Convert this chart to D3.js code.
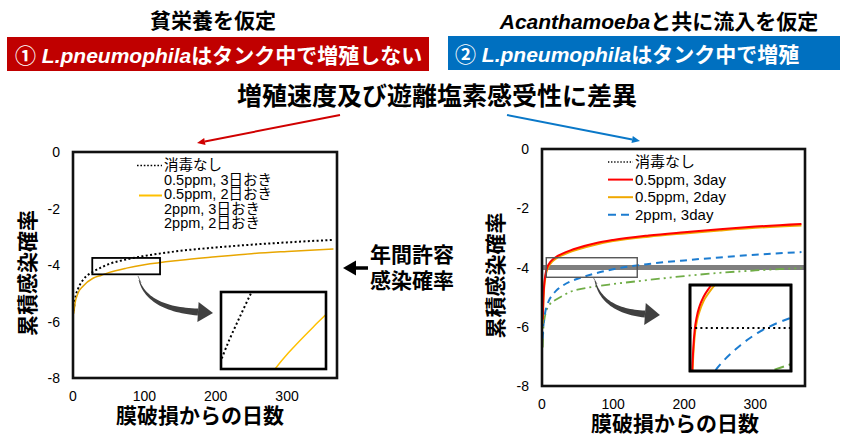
<!DOCTYPE html>
<html>
<head>
<meta charset="utf-8">
<script src="https://cdn.jsdelivr.net/npm/d3@7/dist/d3.min.js"></script>
<style>
  html, body { margin: 0; padding: 0; background: #fff; }
  svg { display: block; }
</style>
</head>
<body>
<svg id="chart" width="854" height="437"></svg>
<script>
// ---- data: log10 cumulative infection risk vs. days since membrane breach ----
const yTicks = [0, -2, -4, -6, -8];
const xTicks = [0, 100, 200, 300];
const threshold = -4; // annual acceptable infection risk (log10)

// Panel 1: oligotrophic, no growth in the tank
const leftDays = [1, 3, 7, 14, 28, 40, 50, 75, 100, 150, 200, 250, 300, 365];
const leftNone = [-5.62, -5.2, -4.85, -4.53, -4.24, -4.08, -3.97, -3.8, -3.68, -3.5, -3.38, -3.28, -3.2, -3.11];
const leftHalf2 = [-5.72, -5.33, -5.0, -4.75, -4.47, -4.36, -4.27, -4.11, -3.99, -3.83, -3.71, -3.6, -3.52, -3.43];
const leftLegend = ["消毒なし", "0.5ppm, 3日おき", "0.5ppm, 2日おき", "2ppm, 3日おき", "2ppm, 2日おき"];

// Panel 2: inflow with Acanthamoeba, growth in the tank
const rightDays = [1, 2, 3, 5, 7, 10, 14, 20, 28, 40, 50, 75, 100, 150, 200, 250, 300, 365];
const rightHalf3 = [-5.75, -5.0, -4.6, -4.22, -4.02, -3.87, -3.75, -3.64, -3.54, -3.42, -3.34, -3.18, -3.07, -2.92, -2.81, -2.71, -2.62, -2.53];
const rightHalf2 = [-5.9, -5.12, -4.7, -4.3, -4.09, -3.93, -3.81, -3.69, -3.59, -3.47, -3.39, -3.23, -3.11, -2.96, -2.85, -2.75, -2.66, -2.58];
const rightTwo3 = [-6.4, -5.95, -5.75, -5.45, -5.3, -5.1, -4.95, -4.78, -4.63, -4.47, -4.38, -4.2, -4.06, -3.88, -3.76, -3.66, -3.57, -3.48];
const rightTwo2 = [-6.7, -6.05, -5.82, -5.55, -5.4, -5.27, -5.17, -5.08, -4.97, -4.82, -4.75, -4.64, -4.56, -4.42, -4.29, -4.18, -4.1, -4.02];
const rightLegend = ["消毒なし", "0.5ppm, 3day", "0.5ppm, 2day", "2ppm, 3day"];

const FONT = "'Liberation Sans', Arial, 'Noto Sans CJK JP', sans-serif";
const svg = d3.select("#chart");

// ---- headings ----
function boldText(x, y, size, parts, anchor, fill) {
  const t = svg.append("text").attr("x", x).attr("y", y)
    .attr("font-family", FONT).attr("font-size", size).attr("font-weight", "bold")
    .attr("text-anchor", anchor || "start").attr("fill", fill || "#000");
  parts.forEach(p => {
    t.append("tspan").text(p[0]).attr("font-style", p[1] ? "italic" : "normal");
  });
  return t;
}

boldText(213, 28, 21, [["貧栄養を仮定"]], "middle");
boldText(659, 29, 21, [["Acanthamoeba", true], ["と共に流入を仮定"]], "middle");

svg.append("rect").attr("x", 7).attr("y", 37).attr("width", 422).attr("height", 34).attr("fill", "#C00000");
boldText(15, 63, 21, [["① "], ["L.pneumophila", true], ["はタンク中で増殖しない"]], "start", "#fff");

svg.append("rect").attr("x", 448).attr("y", 36).attr("width", 392).attr("height", 34).attr("fill", "#0070C0");
boldText(455, 62, 21, [["② "], ["L.pneumophila", true], ["はタンク中で増殖"]], "start", "#fff");

boldText(437, 105, 25, [["増殖速度及び遊離塩素感受性に差異"]], "middle");

// pointer arrows from the subtitle to each panel
function straightArrow(x1, y1, x2, y2, color) {
  const ang = Math.atan2(y2 - y1, x2 - x1);
  const L = 8, W = 3.5;
  const bx = x2 - L * Math.cos(ang), by = y2 - L * Math.sin(ang);
  svg.append("line").attr("x1", x1).attr("y1", y1).attr("x2", bx).attr("y2", by)
    .attr("stroke", color).attr("stroke-width", 2);
  const px = -Math.sin(ang) * W, py = Math.cos(ang) * W;
  svg.append("path")
    .attr("d", `M${x2},${y2}L${bx + px},${by + py}L${bx - px},${by - py}Z`)
    .attr("fill", color);
}
straightArrow(340, 115, 197, 143, "#D00000");
straightArrow(507, 115, 640, 141, "#0A78C8");

// ---- panel helpers ----
function tapered(p0, c, p1, w0, w1, headLen, headW, color) {
  const n = 30, L = [], R = [];
  for (let i = 0; i <= n; i++) {
    const t = i / n;
    const x = (1 - t) * (1 - t) * p0[0] + 2 * (1 - t) * t * c[0] + t * t * p1[0];
    const y = (1 - t) * (1 - t) * p0[1] + 2 * (1 - t) * t * c[1] + t * t * p1[1];
    const dx = 2 * (1 - t) * (c[0] - p0[0]) + 2 * t * (p1[0] - c[0]);
    const dy = 2 * (1 - t) * (c[1] - p0[1]) + 2 * t * (p1[1] - c[1]);
    const len = Math.hypot(dx, dy);
    const w = (w0 + (w1 - w0) * t) / 2;
    const nx = -dy / len * w, ny = dx / len * w;
    L.push([x + nx, y + ny]);
    R.push([x - nx, y - ny]);
  }
  const pts = L.concat(R.reverse());
  svg.append("path").attr("d", "M" + pts.map(p => p.join(",")).join("L") + "Z").attr("fill", color);
  const dx = p1[0] - c[0], dy = p1[1] - c[1], len = Math.hypot(dx, dy);
  const ux = dx / len, uy = dy / len;
  const tip = [p1[0] + ux * headLen, p1[1] + uy * headLen];
  svg.append("path")
    .attr("d", `M${tip}L${p1[0] - uy * headW},${p1[1] + ux * headW}L${p1[0] + uy * headW},${p1[1] - ux * headW}Z`)
    .attr("fill", color);
}

function panel(o) {
  const x = d3.scaleLinear().domain([0, 370]).range([o.x0, o.x1]);
  const y = d3.scaleLinear().domain([0, -8]).range([o.y0, o.y1]);
  const g = svg.append("g");
  const clipId = "clip" + o.id;
  svg.append("clipPath").attr("id", clipId).append("rect")
    .attr("x", o.x0).attr("y", o.y0).attr("width", o.x1 - o.x0).attr("height", o.y1 - o.y0);

  // tick labels
  g.selectAll(".yl").data(yTicks).join("text")
    .attr("x", o.x0 - 13).attr("y", d => y(d) + 5).attr("text-anchor", "end")
    .attr("font-family", FONT).attr("font-size", 14).text(d => d);
  g.selectAll(".xl").data(xTicks).join("text")
    .attr("x", d => x(d)).attr("y", o.y1 + 23).attr("text-anchor", "middle")
    .attr("font-family", FONT).attr("font-size", 14).text(d => d);

  // axis titles
  g.append("text").attr("transform", `translate(${o.ytx},${(o.y0 + o.y1) / 2 + 8}) rotate(-90)`)
    .attr("text-anchor", "middle").attr("font-family", FONT).attr("font-size", 21)
    .attr("font-weight", "bold").attr("dy", "0.35em").text("累積感染確率");
  g.append("text").attr("x", o.xtx).attr("y", o.y1 + 45).attr("text-anchor", "middle")
    .attr("font-family", FONT).attr("font-size", 21).attr("font-weight", "bold").text("膜破損からの日数");

  const plot = g.append("g").attr("clip-path", `url(#${clipId})`);
  return { x, y, g, plot };
}

function drawLine(parent, xs, days, vals, st) {
  const line = d3.line().x((d, i) => xs.x(days[i])).y(d => xs.y(d)).curve(d3.curveMonotoneX);
  parent.append("path").datum(vals).attr("d", line).attr("fill", "none")
    .attr("stroke", st.color).attr("stroke-width", st.width)
    .attr("stroke-dasharray", st.dash || null);
}

// ---- panel 1 ----
const P1 = panel({ id: 1, x0: 73, x1: 337, y0: 152, y1: 378, ytx: 28, xtx: 200 });
const sNone1 = { color: "#000", width: 2, dash: "2,2.4" };
const sYel1 = { color: "#E8A600", width: 1.5 };
drawLine(P1.plot, P1, leftDays, leftNone, sNone1);
drawLine(P1.plot, P1, leftDays, leftHalf2, sYel1);

// legend 1
leftLegend.forEach((t, i) => {
  P1.g.append("text").attr("x", 164).attr("y", 170 + i * 14.6)
    .attr("font-family", FONT).attr("font-size", 14.5).text(t);
});
P1.g.append("line").attr("x1", 137).attr("x2", 162).attr("y1", 165.5).attr("y2", 165.5)
  .attr("stroke", "#000").attr("stroke-width", 1.6).attr("stroke-dasharray", "1.6,1.8");
P1.g.append("line").attr("x1", 139).attr("x2", 162).attr("y1", 195.5).attr("y2", 195.5)
  .attr("stroke", "#FFC000").attr("stroke-width", 2);

// magnified region marker
const r1 = { d0: 27, d1: 122, v0: -3.75, v1: -4.33 };
P1.g.append("rect").attr("x", P1.x(r1.d0)).attr("y", P1.y(r1.v0))
  .attr("width", P1.x(r1.d1) - P1.x(r1.d0)).attr("height", P1.y(r1.v1) - P1.y(r1.v0))
  .attr("fill", "none").attr("stroke", "#000").attr("stroke-width", 1.8);

P1.g.append("line").attr("x1", 138).attr("y1", 276).attr("x2", 141).attr("y2", 283)
  .attr("stroke", "#666").attr("stroke-width", 0.8);
tapered([139, 280], [148, 309], [198, 312], 0.8, 7, 15, 10, "#404040");

// inset 1
function inset(o, series) {
  const x = d3.scaleLinear().domain(o.dx).range([o.x0, o.x1]);
  const y = d3.scaleLinear().domain(o.dy).range([o.y1, o.y0]);
  const id = "inclip" + o.id;
  svg.append("clipPath").attr("id", id).append("rect")
    .attr("x", o.x0).attr("y", o.y0).attr("width", o.x1 - o.x0).attr("height", o.y1 - o.y0);
  const g = svg.append("g").attr("clip-path", `url(#${id})`);
  g.append("rect").attr("x", o.x0).attr("y", o.y0).attr("width", o.x1 - o.x0)
    .attr("height", o.y1 - o.y0).attr("fill", "#fff");
  series.forEach(s => drawLine(g, { x, y }, s.days, s.vals, s.st));
  svg.append("rect").attr("x", o.x0).attr("y", o.y0).attr("width", o.x1 - o.x0)
    .attr("height", o.y1 - o.y0).attr("fill", "none").attr("stroke", "#000").attr("stroke-width", 2.6);
  return { x, y, g };
}

inset({ id: 1, x0: 221, x1: 326, y0: 292, y1: 369, dx: [30, 79], dy: [-4.23, -4.03] }, [
  { days: leftDays, vals: leftNone, st: { color: "#000", width: 2, dash: "2,2.6" } },
  { days: leftDays, vals: leftHalf2, st: { color: "#FFC000", width: 1.5 } }
]);

// panel frame 1 (drawn last so it sits above the curves)
P1.g.append("rect").attr("x", 73).attr("y", 152).attr("width", 264).attr("height", 226)
  .attr("fill", "none").attr("stroke", "#111").attr("stroke-width", 2.6);

// ---- middle annotation ----
svg.append("line").attr("x1", 354).attr("x2", 368).attr("y1", 268).attr("y2", 268)
  .attr("stroke", "#000").attr("stroke-width", 3.5);
svg.append("path").attr("d", "M343,268L356,260.5L356,275.5Z").attr("fill", "#000");
boldText(370, 262, 21, [["年間許容"]]);
boldText(370, 288, 21, [["感染確率"]]);

// ---- panel 2 ----
const P2 = panel({ id: 2, x0: 542, x1: 805, y0: 149, y1: 386, ytx: 496, xtx: 675 });
const sRed = { color: "#FF0000", width: 2 };
const sOra = { color: "#F0A800", width: 2 };
const sBlue = { color: "#1C7CD0", width: 2, dash: "7,5" };
const sGreen = { color: "#70AD47", width: 1.8, dash: "9,4,2,4,2,4" };

P2.plot.append("line").attr("x1", 542).attr("x2", 805)
  .attr("y1", P2.y(threshold)).attr("y2", P2.y(threshold))
  .attr("stroke", "#7F7F7F").attr("stroke-width", 5);
drawLine(P2.plot, P2, rightDays, rightTwo2, sGreen);
drawLine(P2.plot, P2, rightDays, rightTwo3, sBlue);
drawLine(P2.plot, P2, rightDays, rightHalf2, sOra);
drawLine(P2.plot, P2, rightDays, rightHalf3, sRed);

// legend 2
rightLegend.forEach((t, i) => {
  P2.g.append("text").attr("x", 635).attr("y", 167 + i * 17.6)
    .attr("font-family", FONT).attr("font-size", 15).text(t);
});
const legStyles2 = [
  { color: "#000", width: 1.3, dash: "1.3,1.8" }, sRed, sOra, { color: "#1C7CD0", width: 2, dash: "8,5" }
];
legStyles2.forEach((s, i) => {
  P2.g.append("line").attr("x1", 608).attr("x2", 633).attr("y1", 162 + i * 17.6).attr("y2", 162 + i * 17.6)
    .attr("stroke", s.color).attr("stroke-width", s.width).attr("stroke-dasharray", s.dash || null);
});

// magnified region marker
const r2 = { d0: 6, d1: 134, v0: -3.67, v1: -4.33 };
P2.g.append("rect").attr("x", P2.x(r2.d0)).attr("y", P2.y(r2.v0))
  .attr("width", P2.x(r2.d1) - P2.x(r2.d0)).attr("height", P2.y(r2.v1) - P2.y(r2.v0))
  .attr("fill", "none").attr("stroke", "#555").attr("stroke-width", 1.4);
P2.g.append("line").attr("x1", 593).attr("y1", 277).attr("x2", 597).attr("y2", 284)
  .attr("stroke", "#666").attr("stroke-width", 0.8);
tapered([595, 281], [603, 311], [645, 314], 0.8, 7, 15, 11, "#404040");

// inset 2
const I2 = inset({ id: 2, x0: 690, x1: 791, y0: 285, y1: 371, dx: [0, 150], dy: [-4.5, -3.5] }, [
  { days: rightDays, vals: rightTwo2, st: { color: "#70AD47", width: 2, dash: "10,5,2,5,2,5" } },
  { days: rightDays, vals: rightTwo3, st: { color: "#1C7CD0", width: 2, dash: "8,6" } },
  { days: rightDays, vals: rightHalf2, st: sOra },
  { days: rightDays, vals: rightHalf3, st: sRed }
]);
I2.g.append("line").attr("x1", 690).attr("x2", 791)
  .attr("y1", I2.y(threshold)).attr("y2", I2.y(threshold))
  .attr("stroke", "#000").attr("stroke-width", 2).attr("stroke-dasharray", "2,3.2");
svg.append("rect").attr("x", 690).attr("y", 285).attr("width", 101).attr("height", 86)
  .attr("fill", "none").attr("stroke", "#000").attr("stroke-width", 2.6);

// panel frame 2
P2.g.append("rect").attr("x", 542).attr("y", 149).attr("width", 263).attr("height", 237)
  .attr("fill", "none").attr("stroke", "#111").attr("stroke-width", 2.6);
</script>
</body>
</html>
